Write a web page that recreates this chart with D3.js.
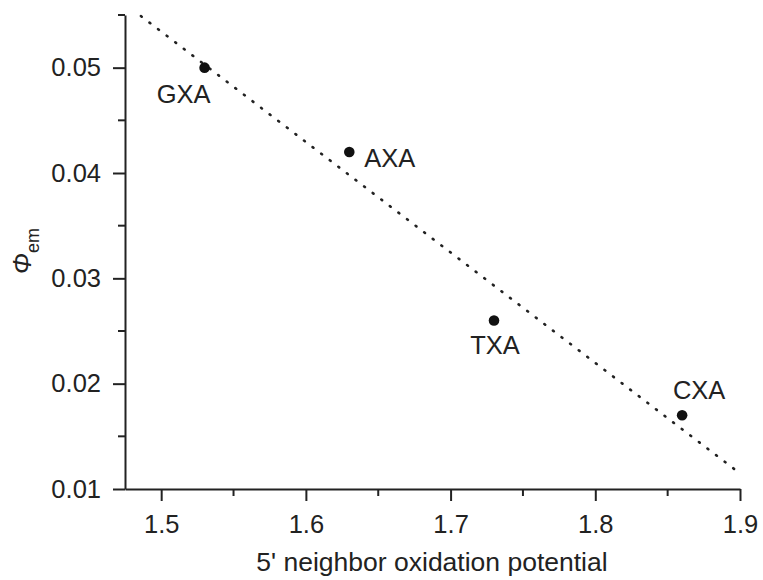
<!DOCTYPE html>
<meta charset="utf-8">

<!-- Load d3.js -->
<script src="https://d3js.org/d3.v7.min.js"></script>

<style type="text/css">
body { margin: 0; background: #fff; }

.axis text {
	font: 25.5px "Liberation Sans", Arial, sans-serif;
	fill: #222;
}

.axis line, .axis path {
	stroke: #222;
	stroke-width: 2px;
	fill: none;
}

.label {
	font: 25.5px "Liberation Sans", Arial, sans-serif;
	fill: #222;
}

.fit {
	fill: none;
	stroke: #222;
	stroke-width: 2.6px;
	stroke-dasharray: 1, 9.8;
	stroke-linecap: round;
}
</style>

<div id="plot"></div>

<script>

	var samples = ["GXA", "AXA", "TXA", "CXA"]
	var potential = [1.53, 1.63, 1.73, 1.86]
	var phi = [0.050, 0.042, 0.026, 0.017]

	// dotted linear fit, end points
	var fitX = [1.486, 1.896]
	var fitY = [0.0549, 0.0119]

	var xTicks = [1.5, 1.6, 1.7, 1.8, 1.9]
	var xMinor = [1.55, 1.65, 1.75, 1.85]
	var yTicks = [0.01, 0.02, 0.03, 0.04, 0.05]
	var yMinor = [0.015, 0.025, 0.035, 0.045, 0.055]

	var data = samples.map(function(s, i) { return [potential[i], phi[i], s] })
	var fit = fitX.map(function(x, i) { return [x, fitY[i]] })

	// label placement relative to each point: [dx, dy, anchor]
	var place = {
		"GXA": [-21, 35, "middle"],
		"AXA": [15, 15, "start"],
		"TXA": [1, 34, "middle"],
		"CXA": [17, -16, "middle"]
	}

	var width = 763, height = 580;

	var x = d3.scaleLinear()
		.domain([1.475, 1.9])
		.range([125, 740]);

	var y = d3.scaleLinear()
		.domain([0.01, 0.055])
		.range([489, 15]);

	var svg = d3.select("#plot")
		.append("svg")
			.attr("width", width)
			.attr("height", height);

	// x axis
	var gx = svg.append("g")
		.attr("class", "axis")
		.attr("transform", "translate(0,489)");
	gx.call(d3.axisBottom(x).tickValues(xTicks).tickFormat(d3.format(".1f"))
		.tickSize(12).tickSizeOuter(0).tickPadding(14));
	gx.selectAll(".minor")
		.data(xMinor)
		.enter().append("line")
			.attr("class", "minor")
			.attr("x1", function(d) { return x(d) })
			.attr("x2", function(d) { return x(d) })
			.attr("y1", 0)
			.attr("y2", 7);

	// y axis
	var gy = svg.append("g")
		.attr("class", "axis")
		.attr("transform", "translate(125,0)");
	gy.call(d3.axisLeft(y).tickValues(yTicks).tickFormat(d3.format(".2f"))
		.tickSize(12).tickSizeOuter(0).tickPadding(12));
	gy.selectAll(".minor")
		.data(yMinor)
		.enter().append("line")
			.attr("class", "minor")
			.attr("y1", function(d) { return y(d) })
			.attr("y2", function(d) { return y(d) })
			.attr("x1", 0)
			.attr("x2", -7);

	// axis titles
	svg.append("text")
		.attr("class", "label")
		.attr("x", 432)
		.attr("y", 571)
		.style("text-anchor", "middle")
		.style("font-size", "26.5px")
		.text("5' neighbor oxidation potential");

	var yl = svg.append("text")
		.attr("class", "label")
		.attr("transform", "translate(31,251) rotate(-90)")
		.style("text-anchor", "middle");
	yl.append("tspan")
		.style("font-style", "italic")
		.style("font-size", "25px")
		.text("\u03A6");
	yl.append("tspan")
		.attr("dy", 8)
		.style("font-size", "18px")
		.text("em");

	// fit line
	svg.append("path")
		.datum(fit)
		.attr("class", "fit")
		.attr("d", d3.line()
			.x(function(d) { return x(d[0]) })
			.y(function(d) { return y(d[1]) }));

	// points
	svg.selectAll(".dot")
		.data(data)
		.enter().append("circle")
			.attr("class", "dot")
			.attr("cx", function(d) { return x(d[0]) })
			.attr("cy", function(d) { return y(d[1]) })
			.attr("r", 5.3)
			.style("fill", "#111");

	svg.selectAll(".pt-label")
		.data(data)
		.enter().append("text")
			.attr("class", "label pt-label")
			.attr("x", function(d) { return x(d[0]) + place[d[2]][0] })
			.attr("y", function(d) { return y(d[1]) + place[d[2]][1] })
			.style("text-anchor", function(d) { return place[d[2]][2] })
			.text(function(d) { return d[2] });

</script>
